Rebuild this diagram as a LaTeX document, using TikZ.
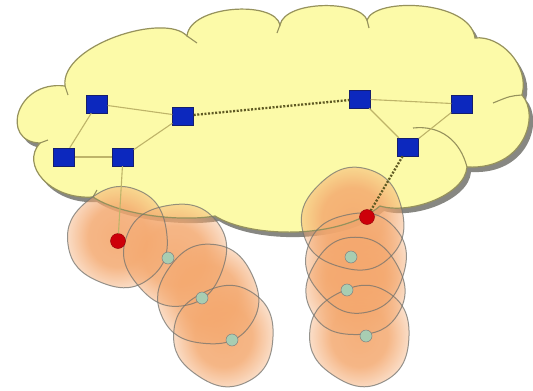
\documentclass[tikz,border=0pt]{standalone}
\usetikzlibrary{fadings}
\definecolor{cloudfill}{RGB}{252,250,168}
\definecolor{cloudline}{RGB}{150,146,92}
\definecolor{shadowc}{RGB}{135,135,130}
\definecolor{orangeb}{RGB}{244,168,110}
\definecolor{blobline}{RGB}{115,115,110}
\definecolor{linkc}{RGB}{190,180,105}
\definecolor{dotc}{RGB}{95,90,35}
\definecolor{sqfill}{RGB}{12,40,190}
\definecolor{sqline}{RGB}{20,30,110}
\definecolor{redc}{RGB}{205,0,10}
\definecolor{greenc}{RGB}{168,205,178}
\pgfdeclareradialshading{softblobshade}{\pgfpointorigin}{color(0bp)=(pgftransparent!0); color(14bp)=(pgftransparent!8); color(27bp)=(pgftransparent!70); color(50bp)=(pgftransparent!100)}
\pgfdeclarefading{softblob}{\pgfuseshading{softblobshade}}
\newcommand\myblob[5]{%
  \path[#5, shift={(#1,#2)}, rotate=#4] plot[smooth cycle, tension=0.85] coordinates {(0:{1.02*#3}) (60:{1.07*#3}) (120:{0.99*#3}) (180:{1.05*#3}) (240:{1.0*#3}) (300:{1.08*#3})};}
\def\cloudpath{(40,143) .. controls (0,142) and (15,80) .. (65,86) .. controls (60,45) and (165,12) .. (187,36) .. controls (190,5) and (275,0) .. (280,25) .. controls (285,0) and (360,0) .. (367,20) .. controls (375,-3) and (470,0) .. (475,38) .. controls (500,35) and (530,65) .. (522,95) .. controls (540,115) and (525,170) .. (467,167) .. controls (465,195) and (410,215) .. (380,206) .. controls (340,240) and (250,238) .. (215,216) .. controls (180,222) and (120,215) .. (93,197) .. controls (50,200) and (20,165) .. (40,143) -- cycle}
\begin{document}
\begin{tikzpicture}[x=1pt,y=-1pt,
  blobfill/.style={fill=orangeb, fill opacity=0.9, path fading=softblob},
  blobedge/.style={draw=blobline, draw opacity=0.75, line width=1pt},
  sq/.style={rectangle, minimum width=21pt, minimum height=18pt, inner sep=0pt, fill=sqfill, draw=sqline, line width=0.4pt},
  rdot/.style={circle, minimum size=15pt, inner sep=0pt, fill=redc, draw=redc!70!black, line width=0.4pt},
  gdot/.style={circle, minimum size=12pt, inner sep=0pt, fill=greenc, draw=gray, line width=0.5pt},
  link/.style={draw=linkc, line width=1.1pt},
  dlink/.style={draw=dotc, line width=2.3pt, dash pattern=on 2pt off 1.6pt},
  tick/.style={draw=cloudline, line width=1.1pt}]
\fill[white] (0,0) rectangle (533,391);
\useasboundingbox (0,0) rectangle (533,391);
% cloud
\fill[shadowc, shift={(4,5)}] \cloudpath;
\fill[cloudfill] \cloudpath;
% blob fills
\myblob{118}{238}{48}{8}{blobfill}
\myblob{175}{254}{49}{-20}{blobfill}
\myblob{208}{296}{48}{25}{blobfill}
\myblob{224}{336}{48}{-4}{blobfill}
\myblob{353}{220}{49}{14}{blobfill}
\myblob{356}{262}{48}{-18}{blobfill}
\myblob{355}{288}{47}{30}{blobfill}
\myblob{360}{336}{48}{-3}{blobfill}
% cloud outline
\draw[cloudline, line width=1.2pt] \cloudpath;
\draw[tick] (65,86) -- (68,95);
\draw[tick] (187,36) -- (197,43);
\draw[tick] (280,25) -- (277,33);
\draw[tick] (367,20) -- (369,28);
\draw[tick] (40,143) -- (48,140);
\draw[tick] (93,197) -- (97,190);
\draw[tick] (522,95) .. controls (510,96) .. (493,103);
\draw[tick] (467,167) .. controls (460,140) and (440,125) .. (413,128);
% blob outlines
\myblob{118}{238}{48}{8}{blobedge}
\myblob{175}{254}{49}{-20}{blobedge}
\myblob{208}{296}{48}{25}{blobedge}
\myblob{224}{336}{48}{-4}{blobedge}
\myblob{353}{220}{49}{14}{blobedge}
\myblob{356}{262}{48}{-18}{blobedge}
\myblob{355}{288}{47}{30}{blobedge}
\myblob{360}{336}{48}{-3}{blobedge}
% nodes
\node[sq] (A) at (97,104) {};
\node[sq] (B) at (183,116) {};
\node[sq] (C) at (64,157) {};
\node[sq] (D) at (123,157) {};
\node[sq] (E) at (360,99) {};
\node[sq] (F) at (462,104) {};
\node[sq] (G) at (408,147) {};
\node[rdot] (r1) at (118,241) {};
\node[rdot] (r2) at (367,217) {};
\node[gdot] (g1) at (168,258) {};
\node[gdot] (g2) at (202,298) {};
\node[gdot] (g3) at (232,340) {};
\node[gdot] (g4) at (351,257) {};
\node[gdot] (g5) at (347,290) {};
\node[gdot] (g6) at (366,336) {};
% links
\draw[link] (A) -- (B);
\draw[link] (A) -- (C);
\draw[link] (C) -- (D);
\draw[link] (D) -- (B);
\draw[link] (D) -- (r1);
\draw[link] (E) -- (F);
\draw[link] (E) -- (G);
\draw[link] (G) -- (F);
\draw[dlink] (B) -- (E);
\draw[dlink] (G) -- (r2);
\end{tikzpicture}
\end{document}
